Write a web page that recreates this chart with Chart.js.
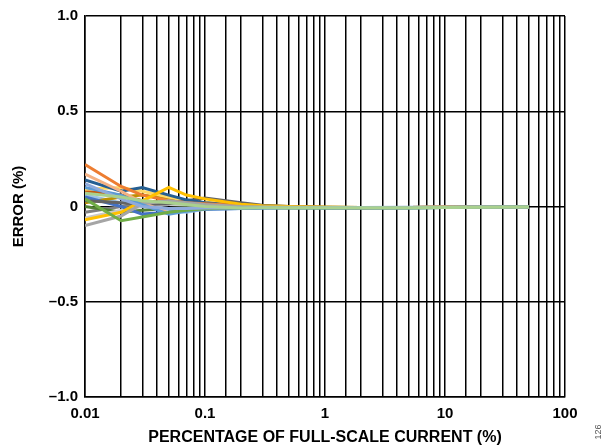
<!DOCTYPE html>
<html>
<head>
<meta charset="utf-8">
<script src="https://cdn.jsdelivr.net/npm/chart.js@4.4.1/dist/chart.umd.min.js"></script>
<style>
  html, body { margin: 0; padding: 0; background: #fff; }
  #wrap { position: relative; width: 604px; height: 447px; }
</style>
</head>
<body>
<div id="wrap"><canvas id="errChart" width="604" height="447"></canvas></div>
<script>
// Data
const xValues = [0.01, 0.02, 0.03, 0.05, 0.07, 0.1, 0.2, 0.3, 0.5, 1, 2, 5, 10, 20, 50];
const xTickLabels = ['0.01', '0.1', '1', '10', '100'];
const yTickValues = [-1, -0.5, 0, 0.5, 1];
const yTickLabels = ['\u20131.0', '\u20130.5', '0', '0.5', '1.0'];

// first colour is drawn on top
const seriesColors = [
    '#A9D18E', '#8FAADC', '#70AD47', '#5B9BD5', '#A5A5A5', '#FFC000',
    '#ED7D31', '#F4B183', '#255E91', '#636363', '#4472C4', '#FFD966',
    '#C9C9C9', '#BF9000', '#9DC3E6', '#548235', '#C55A11', '#7F7F7F'
];

const s1  = [0.07, 0.05, 0.03, 0.02, 0.01, 0.0, -0.008, -0.007, -0.006, -0.006, -0.006, -0.006, -0.005, -0.004, -0.003];
const s2  = [0.12, 0.04, 0.0, -0.01, -0.01, -0.008, -0.006, -0.005, -0.005, -0.005, -0.005, -0.004, -0.004, -0.003, -0.002];
const s3  = [0.04, -0.075, -0.055, -0.03, -0.02, -0.012, -0.006, -0.005, -0.006, -0.006, -0.006, -0.006, -0.005, -0.004, -0.003];
const s4  = [0.1, 0.06, 0.01, -0.04, -0.025, -0.012, -0.01, -0.008, -0.007, -0.007, -0.007, -0.006, -0.005, -0.004, -0.003];
const s5  = [-0.1, -0.05, 0.015, 0.03, 0.02, 0.01, 0, -0.002, -0.004, -0.005, -0.005, -0.005, -0.004, -0.003, -0.002];
const s6  = [-0.07, -0.03, 0.03, 0.1, 0.06, 0.04, 0.012, 0.004, 0, -0.004, -0.005, -0.005, -0.004, -0.003, -0.002];
const s7  = [0.22, 0.105, 0.06, 0.03, 0.02, 0.015, 0.005, 0, -0.003, -0.005, -0.005, -0.005, -0.004, -0.003, -0.002];
const s8  = [0.17, 0.08, 0.02, -0.035, -0.02, -0.01, 0, 0, -0.005, -0.005, -0.006, -0.005, -0.004, -0.003, -0.002];
const s9  = [0.14, 0.08, 0.1, 0.06, 0.035, 0.02, 0.005, 0, -0.004, -0.006, -0.006, -0.005, -0.005, -0.003, -0.002];
const s10 = [0.03, 0.02, 0.01, 0.015, 0.03, 0.045, 0.02, 0.006, 0, -0.004, -0.005, -0.005, -0.004, -0.003, -0.002];
const s11 = [0.05, 0.0, -0.04, -0.03, -0.02, -0.015, -0.01, -0.008, -0.007, -0.007, -0.006, -0.006, -0.005, -0.004, -0.003];
const s12 = [0.09, 0.1, 0.08, 0.05, 0.03, 0.02, 0.01, 0.004, 0, -0.004, -0.005, -0.005, -0.004, -0.003, -0.002];
const s13 = [-0.06, -0.02, 0.0, 0.01, 0.01, 0.005, 0, -0.003, -0.004, -0.005, -0.005, -0.005, -0.004, -0.003, -0.002];
const s14 = [0.02, 0.05, 0.06, 0.04, 0.03, 0.02, 0.006, 0.002, -0.002, -0.004, -0.005, -0.005, -0.004, -0.003, -0.002];
const s15 = [0.06, 0.02, 0.03, -0.02, -0.03, -0.015, -0.01, -0.007, -0.006, -0.006, -0.006, -0.006, -0.005, -0.004, -0.003];
const s16 = [0.0, -0.03, -0.02, -0.01, -0.008, -0.006, -0.005, -0.005, -0.006, -0.006, -0.006, -0.006, -0.005, -0.004, -0.003];
const s17 = [0.08, 0.06, 0.03, 0.02, 0.015, 0.01, 0.004, 0, -0.003, -0.005, -0.005, -0.005, -0.004, -0.003, -0.002];
const s18 = [-0.03, 0.0, 0.02, 0.01, 0.005, 0.0, -0.002, -0.003, -0.004, -0.005, -0.005, -0.005, -0.004, -0.003, -0.002];

const allSeries = [s1, s2, s3, s4, s5, s6, s7, s8, s9, s10, s11, s12, s13, s14, s15, s16, s17, s18];

const isDecade = v => Math.abs(Math.log10(v) - Math.round(Math.log10(v))) < 1e-6;
const fontFam = 'Arial, "Liberation Sans", sans-serif';

// the little figure number on the right edge
const figNumber = {
    id: 'figNumber',
    afterDraw(chart) {
        const ctx = chart.ctx;
        ctx.save();
        ctx.translate(599, 432);
        ctx.rotate(-Math.PI / 2);
        ctx.font = '9px ' + fontFam;
        ctx.fillStyle = '#555';
        ctx.textAlign = 'center';
        ctx.textBaseline = 'middle';
        ctx.fillText('126', 0, 0);
        ctx.restore();
    }
};

const ctx = document.getElementById('errChart').getContext('2d');
const chart = new Chart(ctx, {
    type: 'line',
    data: {
        datasets: allSeries.map((s, i) => ({
            data: xValues.map((x, j) => ({ x: x, y: s[j] })),
            borderColor: seriesColors[i],
            borderWidth: 3,
            pointRadius: 0,
            fill: false,
            tension: 0
        }))
    },
    options: {
        responsive: false,
        animation: false,
        layout: { padding: { left: 10, right: 39, top: 13, bottom: 0 } },
        plugins: { legend: { display: false }, tooltip: { enabled: false } },
        scales: {
            x: {
                type: 'logarithmic',
                min: 0.01,
                max: 100,
                border: { color: '#000', width: 1.5 },
                grid: { color: '#000', lineWidth: 1.5, drawTicks: false },
                ticks: {
                    autoSkip: false,
                    maxRotation: 0,
                    padding: 8,
                    color: '#000',
                    font: { family: fontFam, size: 15, weight: 'bold' },
                    callback: function (v) {
                        if (!isDecade(v)) return '';
                        const k = Math.round(Math.log10(v)) + 2;
                        return xTickLabels[k];
                    }
                },
                afterFit: s => { s.height = 50; },
                title: {
                    display: true,
                    text: 'PERCENTAGE OF FULL-SCALE CURRENT (%)',
                    color: '#000',
                    padding: { top: 0, bottom: 0 },
                    font: { family: fontFam, size: 16, weight: 'bold' }
                }
            },
            y: {
                min: -1,
                max: 1,
                border: { color: '#000', width: 1.5 },
                grid: { color: '#000', lineWidth: 1.5, drawTicks: false },
                afterBuildTicks: s => { s.ticks = yTickValues.map(v => ({ value: v })); },
                ticks: {
                    padding: 7,
                    color: '#000',
                    font: { family: fontFam, size: 15, weight: 'bold' },
                    callback: function (v) {
                        const k = yTickValues.indexOf(v);
                        return k >= 0 ? yTickLabels[k] : '';
                    }
                },
                afterFit: s => { s.width = 75; },
                title: {
                    display: true,
                    text: 'ERROR (%)',
                    color: '#000',
                    padding: 0,
                    font: { family: fontFam, size: 15, weight: 'bold' }
                }
            }
        }
    },
    plugins: [figNumber]
});
</script>
</body>
</html>
